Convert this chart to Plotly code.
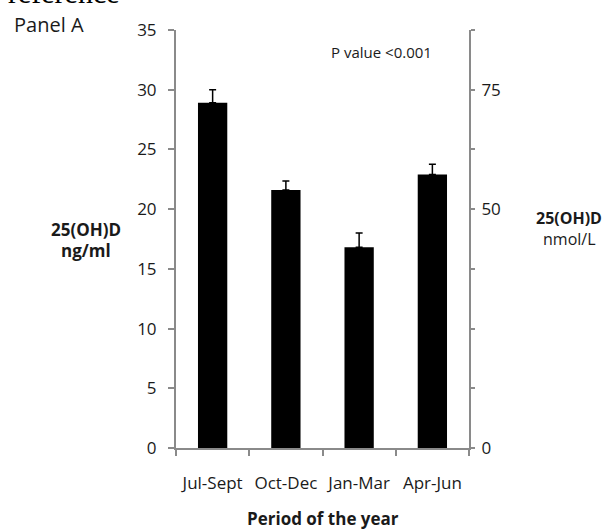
import plotly.graph_objects as go

periods = ["Jul-Sept", "Oct-Dec", "Jan-Mar", "Apr-Jun"]
vitd_ngml = [28.9, 21.6, 16.8, 22.9]
err_ngml = [1.1, 0.75, 1.2, 0.85]
left_ticks = [0, 5, 10, 15, 20, 25, 30, 35]
right_tickvals = [0, 12.5, 25, 37.5, 50, 62.5, 75, 87.5]
right_ticktext = ["0", "", "", "", "50", "", "75", ""]

W, H = 603, 529
L, R, T, B = 176, 469, 30, 448
FONT = "Open Sans"
AXC = "#8a8a8a"
TXT = "#1a1a1a"
TICKSZ = 17


def px(x):
    return (x - L) / (R - L)


def py(y):
    return (B - y) / (B - T)


fig = go.Figure()
fig.add_trace(go.Bar(
    x=periods, y=vitd_ngml,
    marker=dict(color="black", line=dict(width=0)),
    width=0.4,
    error_y=dict(type="data", symmetric=False, array=err_ngml,
                 arrayminus=[0] * len(err_ngml), color="black",
                 thickness=1.5, width=3.5),
    showlegend=False,
))
fig.add_trace(go.Scatter(x=periods, y=[None] * len(periods), yaxis="y2",
                         showlegend=False, hoverinfo="skip"))

fig.update_layout(
    width=W, height=H,
    margin=dict(l=L, r=W - R, t=T, b=H - B, pad=0),
    paper_bgcolor="white", plot_bgcolor="white",
    font=dict(family=FONT, size=16, color=TXT),
    xaxis=dict(type="category", showgrid=False, showline=True, linecolor=AXC,
               linewidth=2, ticks="outside", tickson="boundaries", ticklen=6,
               tickcolor=AXC, tickwidth=2, ticklabelstandoff=19,
               tickangle=0, automargin=False,
               tickfont=dict(size=TICKSZ, family=FONT, color=TXT),
               range=[-0.5, 3.5], zeroline=False),
    yaxis=dict(range=[0, 35], tickvals=left_ticks, showgrid=False,
               showline=True, linecolor=AXC, linewidth=2, ticks="outside",
               ticklen=6, tickcolor=AXC, tickwidth=2, ticklabelstandoff=8,
               automargin=False,
               tickfont=dict(size=TICKSZ, family=FONT, color=TXT), zeroline=False),
    yaxis2=dict(range=[0, 87.5], overlaying="y", side="right", anchor="x",
                tickvals=right_tickvals, ticktext=right_ticktext,
                showgrid=False, showline=True, linecolor=AXC, linewidth=2,
                ticks="outside", ticklen=4, tickcolor=AXC, tickwidth=2,
                ticklabelstandoff=3, automargin=False,
                tickfont=dict(size=TICKSZ, family=FONT, color=TXT), zeroline=False),
)

ann = [
    dict(text="reference", x=px(6), y=py(-7), xanchor="left", yanchor="middle",
         font=dict(family="Liberation Serif", size=30, color="black")),
    dict(text="Panel A", x=px(12), y=py(24), xanchor="left", yanchor="middle",
         font=dict(size=20)),
    dict(text="P value <0.001", x=px(381), y=py(52), xanchor="center",
         yanchor="middle", font=dict(size=15)),
    dict(text="<b>25(OH)D</b>", x=px(86), y=py(229), xanchor="center",
         yanchor="middle", font=dict(size=17)),
    dict(text="<b>ng/ml</b>", x=px(86), y=py(251), xanchor="center",
         yanchor="middle", font=dict(size=17)),
    dict(text="<b>25(OH)D</b>", x=px(569), y=py(218), xanchor="center",
         yanchor="middle", font=dict(size=16)),
    dict(text="nmol/L", x=px(569), y=py(239), xanchor="center",
         yanchor="middle", font=dict(size=16)),
    dict(text="<b>Period of the year</b>", x=px(323), y=py(518),
         xanchor="center", yanchor="middle", font=dict(size=17)),
]
for a in ann:
    a.update(xref="paper", yref="paper", showarrow=False)
fig.update_layout(annotations=ann)

fig.write_html("out.html")
